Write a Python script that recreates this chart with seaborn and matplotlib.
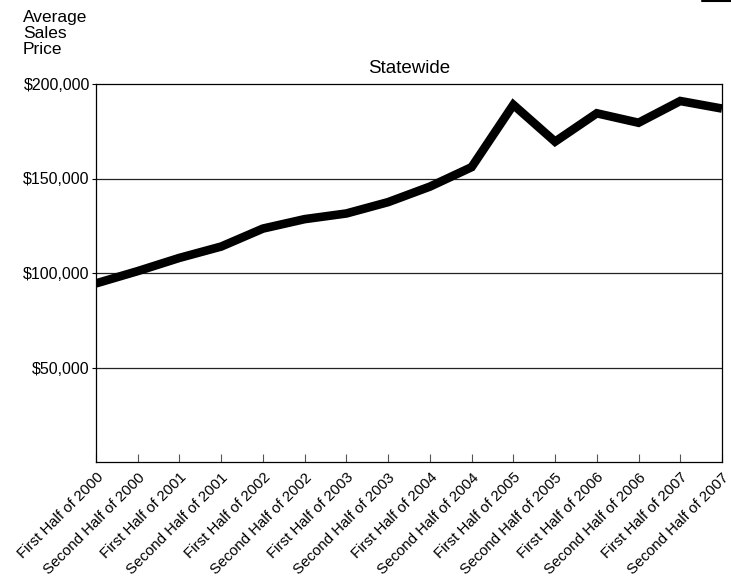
import matplotlib
matplotlib.use("Agg")
import matplotlib.pyplot as plt
import seaborn as sns
import pandas as pd

periods = [
    "First Half of 2000", "Second Half of 2000",
    "First Half of 2001", "Second Half of 2001",
    "First Half of 2002", "Second Half of 2002",
    "First Half of 2003", "Second Half of 2003",
    "First Half of 2004", "Second Half of 2004",
    "First Half of 2005", "Second Half of 2005",
    "First Half of 2006", "Second Half of 2006",
    "First Half of 2007", "Second Half of 2007",
]
avg_price = [94500, 101000, 108000, 114000, 123500, 128500, 131500, 137500,
             145700, 156000, 189000, 169500, 184500, 179500, 191000, 187000]
y_ticks = [50000, 100000, 150000, 200000]
y_tick_labels = ["$50,000", "$100,000", "$150,000", "$200,000"]

sns.set_theme(style="white")
plt.rcParams["font.family"] = ["Liberation Sans", "DejaVu Sans"]

df = pd.DataFrame({"period": periods, "price": avg_price, "idx": range(len(periods))})

fig = plt.figure(figsize=(7.31, 5.81), dpi=100)
ax = fig.add_axes([96 / 731, 1 - 462 / 581, 626 / 731, 378 / 581])

sns.lineplot(data=df, x="idx", y="price", ax=ax, color="black",
             linewidth=6.2, solid_capstyle="butt", solid_joinstyle="miter")

ax.set_xlim(0, len(periods) - 1)
ax.set_ylim(0, 200000)
ax.set_yticks(y_ticks)
ax.set_yticklabels(y_tick_labels, fontsize=11.5, color="black")
ax.set_xticks(range(len(periods)))
ax.set_xticklabels(periods, rotation=45, ha="right", rotation_mode="anchor",
                   fontsize=10.8, color="black")
ax.tick_params(axis="x", direction="in", length=6, width=0.8, color="#555555",
               bottom=True, pad=6)
ax.tick_params(axis="y", direction="out", length=3, width=0.8, color="black",
               left=True, pad=1.5)

for v in y_ticks[:-1]:
    ax.axhline(v, color="#222222", linewidth=0.9, zorder=0)

for side in ["top", "right", "bottom", "left"]:
    ax.spines[side].set_visible(True)
    ax.spines[side].set_color("black")
    ax.spines[side].set_linewidth(0.9)

ax.set_xlabel("")
ax.set_ylabel("")
ax.set_title("Statewide", fontsize=13.5, color="black", pad=8)

fig.text(23 / 731, 1 - 10 / 581, "Average\nSales\nPrice", ha="left", va="top",
         fontsize=12.5, color="black", linespacing=1.1)

fig.add_artist(plt.Line2D([702 / 731, 1.0], [1 - 0.8 / 581, 1 - 0.8 / 581],
                          color="black", linewidth=1.5,
                          transform=fig.transFigure))

fig.savefig("out.png", dpi=100)
